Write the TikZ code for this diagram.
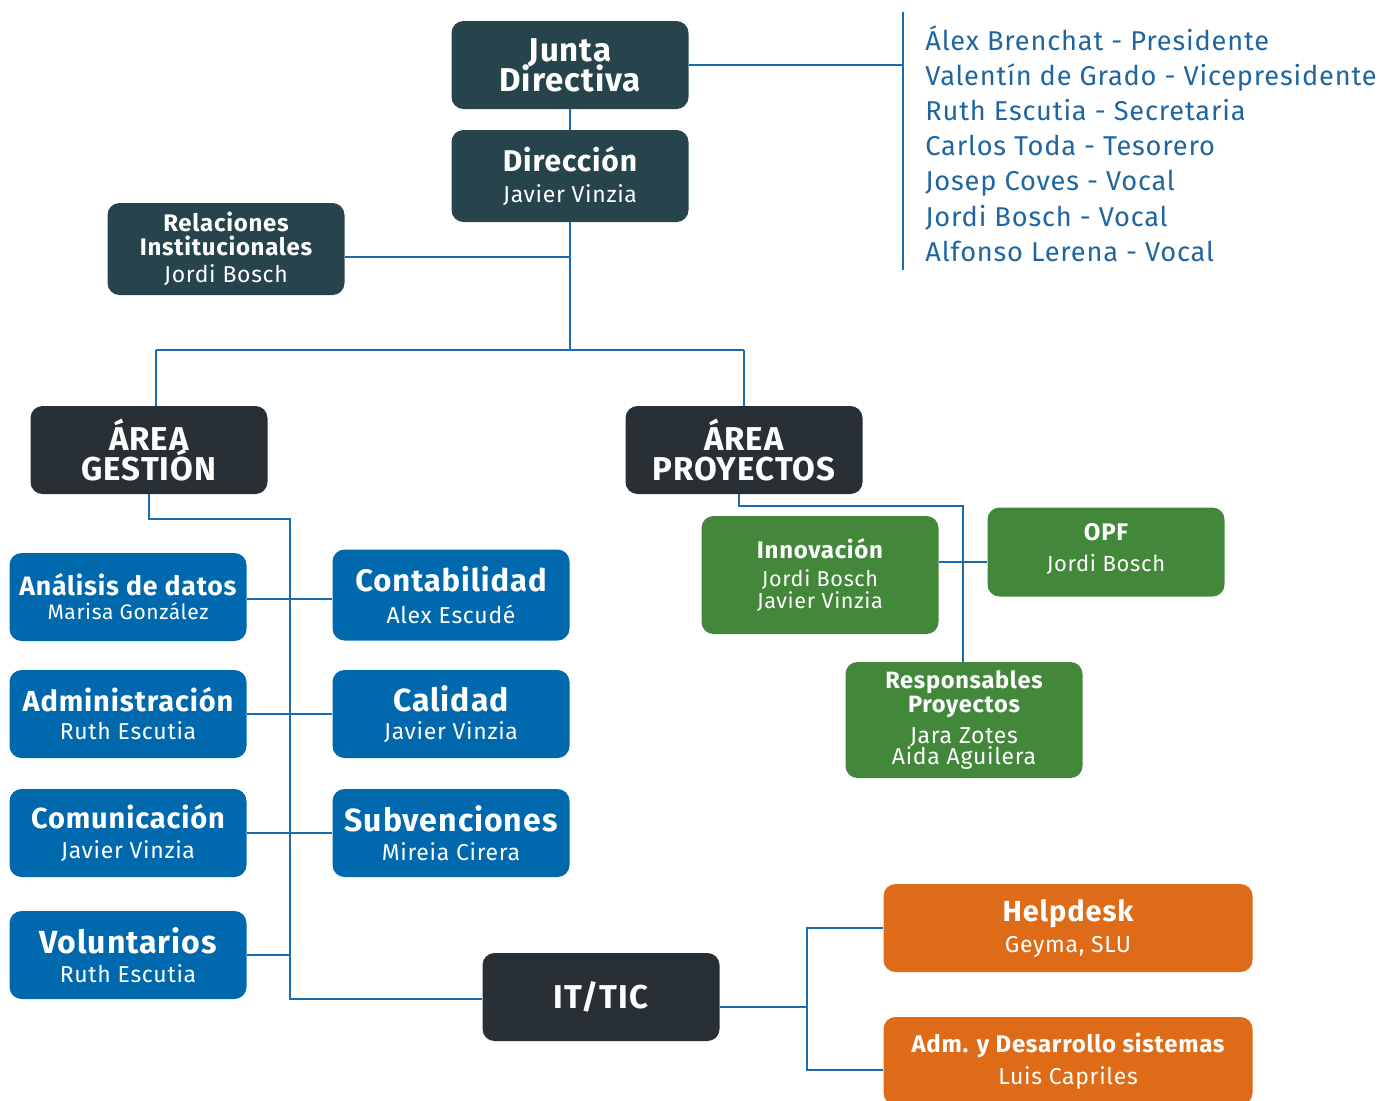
\documentclass[tikz,border=0pt]{standalone}
\usepackage{fontspec}
\setmainfont{Fira Sans}[LetterSpace=3]
\definecolor{cteal}{HTML}{27434B}
\definecolor{cdark}{HTML}{293035}
\definecolor{cblue}{HTML}{0068AD}
\definecolor{cgreen}{HTML}{43883A}
\definecolor{corange}{HTML}{DE6B17}
\definecolor{cline}{HTML}{1C6CB0}
\definecolor{clist}{HTML}{1F65A0}
\newcommand{\fs}[2]{\fontsize{#1}{#2}\selectfont}
\begin{document}
\begin{tikzpicture}[x=0.5pt,y=-0.5pt,
  orgbox/.style={rounded corners=6pt, minimum width=118.5pt, minimum height=44pt, align=center, text=white, inner sep=0pt,
    font={\fs{10}{0}\lineskiplimit=-100pt}},
  wbox/.style={orgbox, minimum width=184.5pt},
  conn/.style={draw=cline, line width=1.25pt},
  listtxt/.style={anchor=base west, text=clist, inner sep=0pt, font=\fs{13.6}{14}}]
\useasboundingbox (0,0) rectangle (1382,1100);
% top
\node[orgbox, fill=cteal] (junta) at (570,65) {\fs{16.5}{15}\bfseries Junta\\[15pt] \fs{16.5}{15}\bfseries Directiva};
\node[orgbox, fill=cteal, minimum height=46pt] (dir) at (570,176) {\fs{15}{15}\bfseries Dirección\\[15.3pt] \fs{11.5}{13}Javier Vinzia};
\node[orgbox, fill=cteal, minimum height=46pt] (rel) at (226,249) {\fs{12}{12}\bfseries Relaciones\\[12pt] \fs{12}{12}\bfseries Institucionales\\[13.8pt] \fs{11.5}{13}Jordi Bosch};
% areas
\node[orgbox, fill=cdark] (ag) at (149,450) {\fs{16.5}{15}\bfseries ÁREA\\[15pt] \fs{16.5}{15}\bfseries GESTIÓN};
\node[orgbox, fill=cdark] (ap) at (744,450) {\fs{16.5}{15}\bfseries ÁREA\\[15pt] \fs{16.5}{15}\bfseries PROYECTOS};
% gestion boxes
\node[orgbox, fill=cblue] (ana) at (128,597) {\fs{13.3}{14}\bfseries Análisis de datos\\[12pt] \fs{10.5}{13}Marisa González};
\node[orgbox, fill=cblue, minimum height=45.5pt] (con) at (451,595) {\fs{15.5}{16}\bfseries Contabilidad\\[15.6pt] \fs{11.5}{13}Alex\ Escudé};
\node[orgbox, fill=cblue] (adm) at (128,714) {\fs{14.5}{15}\bfseries Administración\\[14pt] \fs{11.5}{13}Ruth Escutia};
\node[orgbox, fill=cblue] (cal) at (451,714) {\fs{16}{16}\bfseries Calidad\\[14pt] \fs{11.5}{13}Javier Vinzia};
\node[orgbox, fill=cblue] (com) at (128,833) {\fs{14.5}{15}\bfseries Comunicación\\[15pt] \fs{11.5}{13}Javier Vinzia};
\node[orgbox, fill=cblue] (sub) at (451,833) {\fs{16}{16}\bfseries Subvenciones\\[14.5pt] \fs{11.5}{13}Mireia Cirera};
\node[orgbox, fill=cblue] (vol) at (128,955) {\fs{16}{16}\bfseries Voluntarios\\[14.5pt] \fs{11.5}{13}Ruth Escutia};
\node[orgbox, fill=cdark] (it) at (601,997) {\fs{16.5}{16}\bfseries IT/TIC};
% proyectos boxes
\node[orgbox, fill=cgreen, minimum height=59pt] (inn) at (820,575) {\fs{12}{13}\bfseries Innovación\\[14.1pt] \fs{10.8}{11}Jordi Bosch\\[11pt] \fs{10.8}{11}Javier Vinzia};
\node[orgbox, fill=cgreen, minimum height=44.5pt] (opf) at (1106,552) {\fs{12}{13}\bfseries OPF\\[15.1pt] \fs{11}{13}Jordi Bosch\\[4.5pt]\mbox{}};
\node[orgbox, fill=cgreen, minimum height=58pt] (res) at (964,720) {\fs{11.8}{12}\bfseries Responsables\\[12pt] \fs{11.8}{12}\bfseries Proyectos\\[15.4pt] \fs{11.5}{10.5}Jara Zotes\\[10.5pt] \fs{11.5}{10.5}Aida Aguilera};
% IT boxes
\node[wbox, fill=corange] (hd) at (1068,928) {\fs{14.5}{15}\bfseries Helpdesk\\[15.5pt] \fs{11.5}{13}Geyma, SLU};
\node[wbox, fill=corange] (ads) at (1068,1061) {\fs{12}{13}\bfseries Adm. y Desarrollo sistemas\\[15.8pt] \fs{11.5}{13}Luis Capriles};
% list
\node[listtxt] (l1) at (925,50) {Álex Brenchat - Presidente};
\node[listtxt] (l2) at (925,85.2) {Valentín de Grado - Vicepresidente};
\node[listtxt] (l3) at (925,120.4) {Ruth Escutia - Secretaria};
\node[listtxt] (l4) at (925,155.6) {Carlos Toda - Tesorero};
\node[listtxt] (l5) at (925,190.8) {Josep Coves - Vocal};
\node[listtxt] (l6) at (925,226) {Jordi Bosch - Vocal};
\node[listtxt] (l7) at (925,261.2) {Alfonso Lerena - Vocal};
% connectors
\coordinate (lt) at (903,12);
\coordinate (lb) at (903,270);
\draw[conn] (lt) -- (lb);
\draw[conn] (junta.east) -- (junta.east -| lt);
\draw[conn] (junta) -- (dir);
\coordinate (hub) at (570,350);
\draw[conn] (dir.south) -- (hub);
\draw[conn] (rel.east) ++(0,8) coordinate (re) -- (re -| hub);
\coordinate (hl) at (156,350);
\coordinate (hr) at (744,350);
\draw[conn] (hl) -- (hr);
\draw[conn] (hl) -- (hl |- ag.north);
\draw[conn] (hr) -- (ap.north);
\coordinate (gtop) at (290,519);
\coordinate (gbot) at (290,999);
\draw[conn] (ag.south) |- (gtop) -- (gbot) -- (gbot -| it.west);
\coordinate (b1) at (290,599);
\draw[conn] (b1 -| ana.east) -- (b1 -| con.west);
\draw[conn] (adm.east) -- (cal.west);
\draw[conn] (com.east) -- (sub.west);
\draw[conn] (vol.east) -- (vol.east -| gtop);
\coordinate (pt) at (963,506);
\draw[conn] (ap.south) ++(-5,0) coordinate (aps) |- (pt) -- (pt |- res.north);
\coordinate (pm) at (963,562);
\draw[conn] (pm -| inn.east) -- (pm -| opf.west);
\coordinate (it1) at (807,928);
\coordinate (it2) at (807,1070);
\draw[conn] (it.east) ++(0,10) coordinate (ite) -- (ite -| it1);
\draw[conn] (hd.west) -- (it1) -- (it2) -- (it2 -| ads.west);
\end{tikzpicture}
\end{document}
